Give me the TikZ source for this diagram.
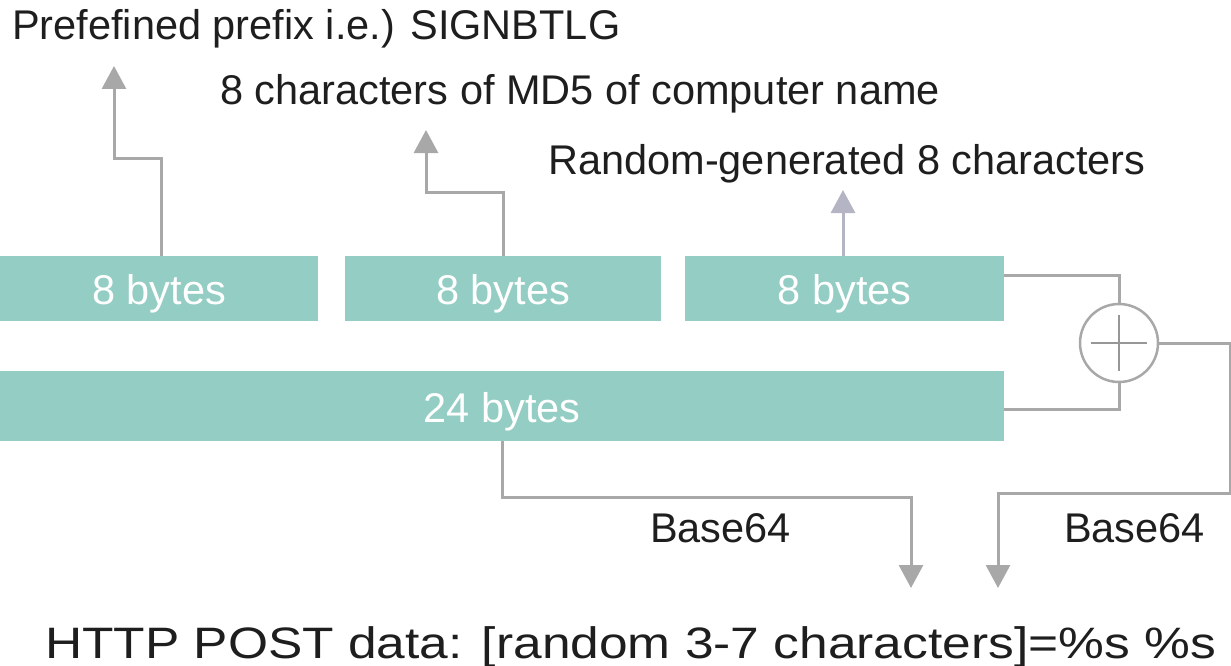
\documentclass[tikz,border=0pt]{standalone}
\usepackage{fontspec}
\setmainfont{Liberation Sans}
\usetikzlibrary{arrows.meta,calc}
\definecolor{boxcol}{RGB}{147,205,195}
\definecolor{linecol}{RGB}{168,168,168}
\definecolor{bluegrey}{RGB}{180,180,196}
\definecolor{txtcol}{RGB}{30,30,30}
\tikzset{
  bytebox/.style={fill=boxcol, draw=none, inner sep=0pt, anchor=north west,
    text=white, text height=32pt, text depth=0pt, font=\fontsize{41.5}{41.5}\selectfont},
  lbl/.style={anchor=base west, inner sep=0pt, text=txtcol, font=\fontsize{41.5}{41.5}\selectfont},
  conn/.style={draw=linecol, line width=3pt},
  arr/.style={conn, -{Triangle[width=24pt,length=23pt]}},
  xorc/.style={circle, draw=linecol, line width=2.5pt, minimum size=78pt, inner sep=0pt}
}
\begin{document}
\begin{tikzpicture}[x=1pt,y=-1pt]
\useasboundingbox (0,0) rectangle (1231,666);
% boxes
\node[bytebox, minimum width=318pt, minimum height=65pt] (b1) at (0,256) {8 bytes};
\node[bytebox, minimum width=316pt, minimum height=65pt] (b2) at (345,256) {8 bytes};
\node[bytebox, minimum width=319pt, minimum height=65pt] (b3) at (685,256) {8 bytes};
\node[bytebox, minimum width=1004pt, minimum height=70pt] (b4) at (0,371) {24 bytes};
% xor
\node[xorc] (xor) at (1119,343) {};
\draw[conn, line width=2.5pt, draw=linecol!90!black] ($(xor.center)+(-28,0)$) -- ($(xor.center)+(28,0)$);
\draw[conn, line width=2.5pt, draw=linecol!90!black] ($(xor.center)+(0,-28)$) -- ($(xor.center)+(0,28)$);
% labels
\node[lbl] (t1) at (12,40) {Prefefined prefix i.e.) SIGNBTLG};
\node[lbl] (t2) at (220,105) {8 characters of MD5 of computer name};
\node[lbl] (t3) at (548,175) {Random-generated 8 characters};
\node[lbl] (t4) at (650,542) {Base64};
\node[lbl] (t5) at (1064,542) {Base64};
\node[anchor=base west, inner sep=0pt, text=txtcol] (t6) at (45,658)
  {\scalebox{1.17}[1]{\fontsize{44}{44}\selectfont HTTP POST data: [random 3-7 characters]=\%s \%s}};
% coordinates
\coordinate (a1) at (114,66);
\coordinate (a2) at (426,130);
\coordinate (a3) at (843,190);
\coordinate (d1) at (911,588);
\coordinate (d2) at (998,588);
% connectors
\draw[arr] (b1.north -| 161,0) -- (161,158) -| (a1);
\draw[arr] (b2.north -| 503,0) -- (503,192) -| (a2);
\draw[arr, draw=bluegrey] (b3.north -| 843,0) -- (a3);
\draw[conn] (b3.east |- 0,275) -| (xor.north);
\draw[conn] (b4.east |- 0,409) -| (xor.south);
\draw[arr] (xor.east) -- (1230,343) |- (998,493) -- (d2);
\draw[arr] (b4.south -| 502,0) |- (911,497) -- (d1);
\end{tikzpicture}
\end{document}
